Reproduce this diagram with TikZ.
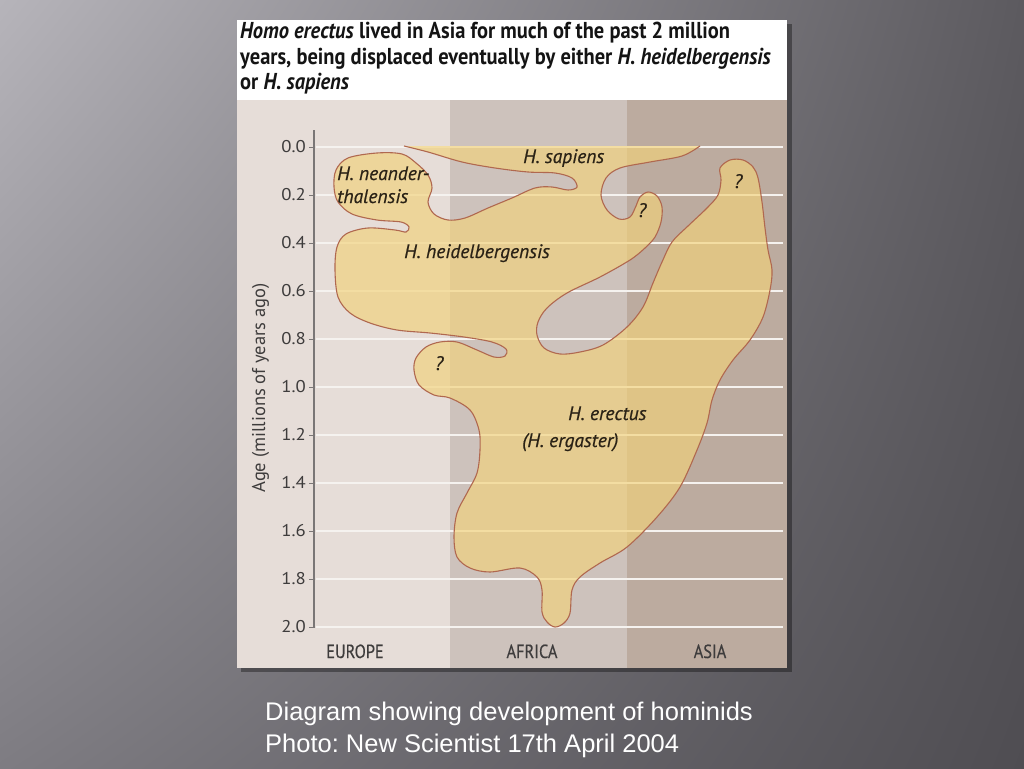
\documentclass[tikz,border=0pt]{standalone}
\usepackage{fontspec}
\newfontfamily\condfont{PT Sans}[FakeStretch=0.86, FakeBold=0.4]
\newfontfamily\headfont{PT Sans}[FakeStretch=0.89]
\newfontfamily\labfont{PT Sans}
\newfontfamily\speciesfont{PT Sans}[FakeBold=0.6]
\newfontfamily\digitfont{PT Sans}[FakeStretch=1.1]
\newfontfamily\capfont{Liberation Sans}
\frenchspacing
\usetikzlibrary{positioning, shadings}
\definecolor{bgul}{HTML}{B6B4BA}
\definecolor{bgur}{HTML}{5C5A5F}
\definecolor{bgll}{HTML}{7E7C82}
\definecolor{bglr}{HTML}{4F4D52}
\definecolor{europecol}{HTML}{E6DDD8}
\definecolor{africacol}{HTML}{CDC2BC}
\definecolor{asiacol}{HTML}{BCAB9F}
\definecolor{blobyellow}{HTML}{F2D27A}
\definecolor{blobedge}{HTML}{B0684F}
\definecolor{gridwhite}{HTML}{F5F2EF}
\definecolor{axisgray}{HTML}{7A7676}
\definecolor{labelgray}{HTML}{3E3C3C}
\definecolor{inkbrown}{HTML}{2A2216}
\tikzstyle{headline} = [anchor=base west, inner sep=0, font=\headfont\bfseries\fontsize{23}{25}\selectfont, text=black!92]
\tikzstyle{ticklabel} = [anchor=east, inner sep=0, font=\digitfont\fontsize{17}{18}\selectfont, text=labelgray]
\tikzstyle{region} = [anchor=base, inner sep=0, font=\condfont\fontsize{19}{22}\selectfont, text=labelgray]
\tikzstyle{species} = [anchor=base west, inner sep=0, font=\speciesfont\itshape\fontsize{19.5}{22}\selectfont, text=inkbrown]
\tikzstyle{gridline} = [draw=gridwhite, line width=2.6pt]
\tikzstyle{captionline} = [anchor=base west, inner sep=0, font=\capfont\fontsize{25.5}{30}\selectfont, text=white]
\tikzstyle{blob} = [fill=blobyellow, fill opacity=0.65, draw=blobedge, draw opacity=1, line width=1.1pt]

\begin{document}
\begin{tikzpicture}[x=1pt, y=-1pt]
 \useasboundingbox (0,0) rectangle (1024,768);
 % slide background and panel
 \shade[upper left=bgul, upper right=bgur, lower left=bgll, lower right=bglr] (0,0) rectangle (1024,768);
 \fill[black, opacity=0.35] (241,24) rectangle (792,672);
 \fill[white] (237,20) rectangle (787,100);
 \fill[europecol] (237,100) rectangle (450,668);
 \fill[africacol] (450,100) rectangle (627,668);
 \fill[asiacol] (627,100) rectangle (787,668);

 % age lines and axis
 \foreach \k in {0,...,10} {
  \draw[gridline] (316,147+48*\k) -- (783,147+48*\k);
  \draw[axisgray, line width=1pt] (309,147+48*\k) -- (314,147+48*\k);
 }
 \draw[axisgray, line width=2pt] (314,130) -- (314,628);
 \foreach \lab [count=\k from 0] in {0.0,0.2,0.4,0.6,0.8,1.0,1.2,1.4,1.6,1.8,2.0}
  \node (tick\k) [ticklabel] at (306,147+48*\k) {\lab};
 \node (agelabel) [region, rotate=90, font=\labfont\fontsize{18.5}{20}\selectfont] at (265,388) {Age (millions of years ago)};

 % the lineages
 \path[blob] plot[smooth, tension=0.55] coordinates {
  (700,146) (682,156) (650,162) (620,168) (606,178) (601,195) (607,210) (619,219)
  (630,217) (636,206) (640,197) (648,192) (657,196) (662,207) (661,222) (655,237)
  (645,248) (630,260) (600,277) (567,293) (547,308) (538,322) (537,335) (544,348)
  (560,354) (580,352) (603,345) (627,327) (643,307) (653,283) (662,262) (672,242)
  (688,226) (707,208) (718,195) (721,180) (720,168) (730,160) (743,160) (753,167)
  (758,178) (762,202) (765,228) (768,250) (772,270) (770,290) (763,317) (750,340)
  (733,360) (720,380) (712,400) (707,423) (697,450) (680,487) (657,517) (627,547)
  (600,563) (580,577) (572,590) (570,613) (564,623) (555,627) (547,622) (542,612)
  (542,590) (537,577) (520,568) (490,572) (470,568) (457,557) (454,537) (457,513)
  (467,493) (477,473) (480,450) (479,430) (470,410) (450,398) (434,395) (419,385)
  (414,370) (416,358) (426,347) (440,342) (457,342) (477,350) (494,357) (505,356)
  (506,349) (492,342) (464,337) (430,333) (397,330) (370,323) (350,313) (338,297)
  (335,270) (337,247) (346,234) (368,228) (395,230) (406,232) (409,227) (401,222)
  (377,220) (352,214) (338,202) (334,187) (336,170) (348,158) (377,153) (402,154)
  (416,163) (428,175) (432,188) (428,202) (434,214) (448,220) (465,218) (488,208)
  (512,198) (535,188) (552,187) (568,190) (577,187) (572,178) (555,173) (528,172)
  (495,168) (462,162) (428,152) (404,146)};

 \node (neander) [species] at (337,180) {H. neander-};
 \node (thal) [species] at (337,203) {thalensis};
 \node (sapiens) [species] at (523,163) {H. sapiens};
 \node (heidel) [species] at (404,258) {H. heidelbergensis};
 \node (erectus) [species] at (568,420) {H. erectus};
 \node (ergaster) [species] at (522,447) {(H. ergaster)};
 \node (qmid) [species] at (638,217) {?};
 \node (qasia) [species] at (734,188) {?};
 \node (qleft) [species] at (435,370) {?};

 % regions
 \node (europe) [region] at (355,658) {EUROPE};
 \node (africa) [region] at (532,658) {AFRICA};
 \node (asia) [region] at (710,658) {ASIA};

 % heading
 \node (head1) [headline] at (240,39) {\textit{Homo erectus} lived in Asia for much of the past 2 million};
 \node (head2) [headline] at (240,64) {years, being displaced eventually by either \textit{H. heidelbergensis}};
 \node (head3) [headline] at (240,89) {or \textit{H. sapiens}};

 % caption
 \node (cap1) [captionline] at (265,720) {Diagram showing development of hominids};
 \node (cap2) [captionline] at (265,752) {Photo: New Scientist 17th April 2004};
\end{tikzpicture}
\end{document}
